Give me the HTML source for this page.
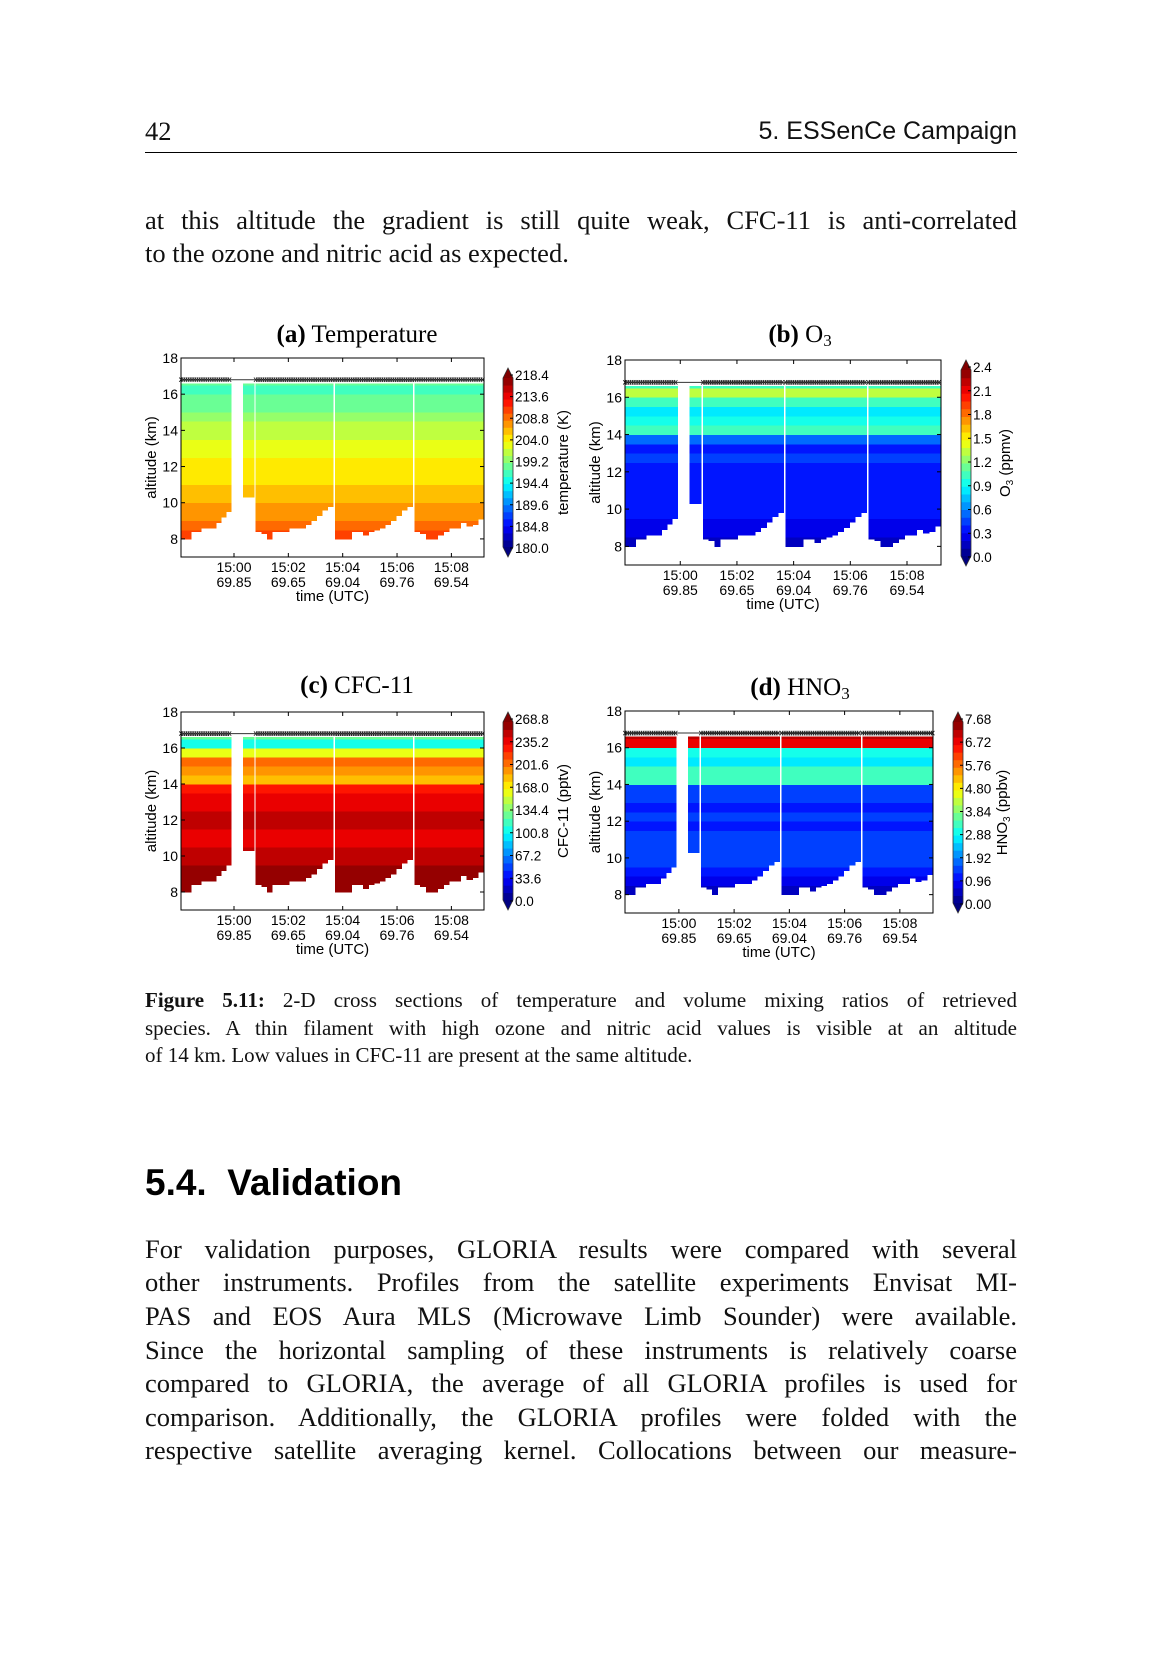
<!DOCTYPE html>
<html><head><meta charset="utf-8">
<style>
html,body{margin:0;padding:0;background:#fff;}
body{width:1165px;height:1654px;position:relative;overflow:hidden;}
.ln{position:absolute;left:145px;width:872px;font-family:"Liberation Serif",serif;font-size:26.5px;line-height:30px;white-space:nowrap;color:#111;}
.j{text-align:justify;text-align-last:justify;white-space:normal;height:30px;overflow:hidden;}
.cap{font-size:21px;line-height:24px;height:24px;}
#fig{position:absolute;left:0;top:0;}
</style></head><body>
<div class="ln" style="top:116px;">42</div>
<div class="ln" style="top:116px;text-align:right;font-family:'Liberation Sans',sans-serif;font-size:25px;">5. ESSenCe Campaign</div>
<div style="position:absolute;left:145px;top:152px;width:872px;height:1px;background:#000;"></div>

<div class="ln j" style="top:205px;">at this altitude the gradient is still quite weak, CFC-11 is anti-correlated</div>
<div class="ln" style="top:238px;">to the ozone and nitric acid as expected.</div>

<svg id="fig" width="1165" height="980"></svg>

<div class="ln j cap" style="top:988px;"><b>Figure 5.11:</b> 2-D cross sections of temperature and volume mixing ratios of retrieved</div>
<div class="ln j cap" style="top:1016px;">species. A thin filament with high ozone and nitric acid values is visible at an altitude</div>
<div class="ln cap" style="top:1043px;">of 14 km. Low values in CFC-11 are present at the same altitude.</div>

<div style="position:absolute;left:145px;top:1161px;font-family:'Liberation Sans',sans-serif;font-weight:bold;font-size:37px;line-height:44px;white-space:nowrap;">5.4.&nbsp;&nbsp;Validation</div>

<div class="ln j" style="top:1234px;">For validation purposes, GLORIA results were compared with several</div>
<div class="ln j" style="top:1267px;">other instruments. Profiles from the satellite experiments Envisat MI-</div>
<div class="ln j" style="top:1301px;">PAS and EOS Aura MLS (Microwave Limb Sounder) were available.</div>
<div class="ln j" style="top:1335px;">Since the horizontal sampling of these instruments is relatively coarse</div>
<div class="ln j" style="top:1368px;">compared to GLORIA, the average of all GLORIA profiles is used for</div>
<div class="ln j" style="top:1402px;">comparison. Additionally, the GLORIA profiles were folded with the</div>
<div class="ln j" style="top:1435px;">respective satellite averaging kernel. Collocations between our measure-</div>

<script>
// altitude levels (km) of profile rows, 0.5 km thick
const altLevels = [8,8.5,9,9.5,10,10.5,11,11.5,12,12.5,13,13.5,14,14.5,15,15.5,16,16.5];
const tempProfile = [211,209.5,208,207.5,207,206,205.5,204.5,205,204,203.5,202,201,199.5,199,198,197,198];
const o3Profile = [0.15,0.2,0.25,0.3,0.3,0.35,0.3,0.35,0.35,0.4,0.35,0.5,1.0,0.9,0.8,1.0,1.35,1.0];
const cfcProfile = [262,262,258,255,252,245,240,252,255,242,245,232,185,200,212,165,105,125];
const hno3Profile = [0.6,0.8,1.0,1.3,1.5,1.4,1.3,1.2,1.4,1.2,1.3,1.5,3.3,3.2,2.8,3.0,6.8,7.3];
// swaths (minutes relative to 15:00) and their bottom altitudes (km)
const swathStart = [-1.95,0.33,0.8,3.72,6.64];
const swathEnd = [-0.1,0.74,3.65,6.58,9.2];
const swathBottoms = [
  [7.9,7.9,8.4,8.4,8.6,8.6,8.6,8.9,9.2,9.5],
  [10.3,10.3],
  [8.4,8.3,8.0,8.4,8.4,8.4,8.6,8.6,8.6,8.8,9.0,9.3,9.6,9.8],
  [8.0,8.0,7.9,8.4,8.4,8.2,8.4,8.5,8.6,8.8,9.0,9.3,9.6,9.8],
  [8.4,8.3,8.0,7.8,8.2,8.4,8.6,8.6,8.9,8.7,8.8,9.1]
];
const dataTop = 16.6;
const timeTicks = [0,2,4,6,8];
const timeLabels = ["15:00","15:02","15:04","15:06","15:08"];
const latLabels = ["69.85","69.65","69.04","69.76","69.54"];
const altTicks = [8,10,12,14,16,18];
const tempCbar = ["218.4","213.6","208.8","204.0","199.2","194.4","189.6","184.8","180.0"];
const o3Cbar = ["2.4","2.1","1.8","1.5","1.2","0.9","0.6","0.3","0.0"];
const cfcCbar = ["268.8","235.2","201.6","168.0","134.4","100.8","67.2","33.6","0.0"];
const hno3Cbar = ["7.68","6.72","5.76","4.80","3.84","2.88","1.92","0.96","0.00"];

const NS='http://www.w3.org/2000/svg';
const svg=document.getElementById('fig');
function mk(tag,attrs,parent){const e=document.createElementNS(NS,tag);for(const k in attrs)e.setAttribute(k,attrs[k]);(parent||svg).appendChild(e);return e;}
function cl(v){return Math.max(0,Math.min(1,v));}
function jet(t){const r=cl(1.5-Math.abs(4*t-3)),g=cl(1.5-Math.abs(4*t-2)),b=cl(1.5-Math.abs(4*t-1));return 'rgb('+Math.round(r*255)+','+Math.round(g*255)+','+Math.round(b*255)+')';}
const NLEV=24;
function levColor(v,vmin,vmax){let t=(v-vmin)/(vmax-vmin);if(t>=1)return 'rgb(128,0,0)';if(t<0)return 'rgb(0,0,128)';const k=Math.floor(t*NLEV);return jet((k+0.5)/NLEV);}

const panels=[
 {id:'temperature',title:'(a)',name:' Temperature',box:[181,358,484,557],cb:[503,368,557],prof:tempProfile,vmin:180,vmax:218.4,cbl:tempCbar,clabel:'temperature (K)',clx:563,tx:357,ty:342},
 {id:'o3',title:'(b)',name:' O',sub:'3',box:[625,360,941,565],cb:[961,360,566],prof:o3Profile,vmin:0,vmax:2.4,cbl:o3Cbar,clabel:'O',csub:'3',cend:' (ppmv)',clx:1005,tx:800,ty:342},
 {id:'cfc11',title:'(c)',name:' CFC-11',box:[181,712,484,910],cb:[503,712,910],prof:cfcProfile,vmin:0,vmax:268.8,cbl:cfcCbar,clabel:'CFC-11 (pptv)',clx:563,tx:357,ty:693},
 {id:'hno3',title:'(d)',name:' HNO',sub:'3',box:[625,711,933,913],cb:[953,712,913],prof:hno3Profile,vmin:0,vmax:7.68,cbl:hno3Cbar,clabel:'HNO',csub:'3',cend:' (ppbv)',clx:1002,tx:800,ty:695}
];
const T0=-1.95,T1=9.2,A0=7,A1=18;
panels.forEach(p=>{
 const [x0,y0,x1,y1]=p.box;
 const xs=t=>x0+(t-T0)/(T1-T0)*(x1-x0);
 const ys=a=>y1-(a-A0)/(A1-A0)*(y1-y0);
 const g=mk('g',{});
 
 
 const tt=mk('text',{x:p.tx,y:p.ty,'text-anchor':'middle','font-family':'Liberation Serif, serif','font-size':'25'},g);
 
 
 const b1=mk('tspan',{'font-weight':'bold'},tt);b1.textContent=p.title;
 const b2=mk('tspan',{},tt);b2.textContent=p.name;
 if(p.sub){const b3=mk('tspan',{'font-size':'17',dy:'4'},tt);b3.textContent=p.sub;}
 const hm=mk('g',{'shape-rendering':'crispEdges'},g);
 
 
 for(let s=0;s<swathStart.length;s++){
  const bots=swathBottoms[s];const n=bots.length;const dt=(swathEnd[s]-swathStart[s])/n;
  for(let c=0;c<n;c++){
   const ta=swathStart[s]+c*dt,tb=ta+dt;
   for(let r=0;r<altLevels.length;r++){
    const lo=Math.max(altLevels[r],bots[c]),hi=Math.min(altLevels[r]+0.5,dataTop);
    if(hi<=lo)continue;
    const cell=mk('rect',{x:xs(ta).toFixed(2),y:ys(hi).toFixed(2),width:(xs(tb)-xs(ta)+0.4).toFixed(2),height:(ys(lo)-ys(hi)+0.4).toFixed(2),fill:levColor(p.prof[r],p.vmin,p.vmax)},hm);
    
    
   }
  }
 }
 const yl=ys(16.8);
 const ml=mk('line',{x1:x0,x2:x1,y1:yl,y2:yl,stroke:'#333','stroke-width':'1'},g);
 
 
 for(let s=0;s<swathStart.length;s++){
  if(s===1)continue;
  let d='';
  for(let x=xs(swathStart[s]);x<xs(swathEnd[s]);x+=2.2){d+='M'+(x-1.8)+' '+(yl-2.2)+'l3.6 4.4M'+(x-1.8)+' '+(yl+2.2)+'l3.6 -4.4';}
  const mp=mk('path',{d:d,stroke:'#222','stroke-width':'0.8',fill:'none'},g);
  
  
 }
 const fr=mk('rect',{x:x0,y:y0,width:x1-x0,height:y1-y0,fill:'none',stroke:'#000','stroke-width':'1'},g);
 
 
 altTicks.forEach(a=>{
  const y=ys(a);
  mk('line',{x1:x0,x2:x0+4,y1:y,y2:y,stroke:'#000'},g);
  mk('line',{x1:x1,x2:x1-4,y1:y,y2:y,stroke:'#000'},g);
  const t=mk('text',{x:x0-3,y:y+5,'text-anchor':'end','font-family':'Liberation Sans, sans-serif','font-size':'14'},g);
  
  
  t.textContent=a;
 });
 const yt=mk('text',{x:0,y:0,transform:'translate('+(x0-25)+','+((y0+y1)/2)+') rotate(-90)','text-anchor':'middle','font-family':'Liberation Sans, sans-serif','font-size':'15'},g);
 
 
 yt.textContent='altitude (km)';
 timeTicks.forEach((tk,i)=>{
  const x=xs(tk);
  mk('line',{x1:x,x2:x,y1:y1,y2:y1-4,stroke:'#000'},g);
  mk('line',{x1:x,x2:x,y1:y0,y2:y0+4,stroke:'#000'},g);
  const t=mk('text',{x:x,y:y1+15,'text-anchor':'middle','font-family':'Liberation Sans, sans-serif','font-size':'14'},g);
  
  
  t.textContent=timeLabels[i];
  const t2=mk('text',{x:x,y:y1+30,'text-anchor':'middle','font-family':'Liberation Sans, sans-serif','font-size':'14'},g);
  
  
  t2.textContent=latLabels[i];
 });
 const xt=mk('text',{x:(x0+x1)/2,y:y1+44,'text-anchor':'middle','font-family':'Liberation Sans, sans-serif','font-size':'15'},g);
 
 
 xt.textContent='time (UTC)';
 const [cx,ct,cbm]=p.cb;const cw=10;const tri=10;
 const it=ct+tri,ib=cbm-tri;
 const cbg=mk('g',{},g);
 
 
 for(let k=0;k<NLEV;k++){
  const yA=ib-(k+1)*(ib-it)/NLEV;
  mk('rect',{x:cx,y:yA,width:cw,height:(ib-it)/NLEV+0.5,fill:jet((k+0.5)/NLEV)},cbg);
 }
 mk('path',{d:'M'+cx+' '+it+'L'+(cx+cw/2)+' '+ct+'L'+(cx+cw)+' '+it+'Z',fill:'rgb(128,0,0)'},cbg);
 mk('path',{d:'M'+cx+' '+ib+'L'+(cx+cw/2)+' '+cbm+'L'+(cx+cw)+' '+ib+'Z',fill:'rgb(0,0,128)'},cbg);
 mk('path',{d:'M'+cx+' '+it+'L'+(cx+cw/2)+' '+ct+'L'+(cx+cw)+' '+it+'L'+(cx+cw)+' '+ib+'L'+(cx+cw/2)+' '+cbm+'L'+cx+' '+ib+'Z',fill:'none',stroke:'#333','stroke-width':'0.8'},cbg);
 const la=ct+7,lb=cbm-9;
 p.cbl.forEach((lab,i)=>{
  const y=la+i*(lb-la)/(p.cbl.length-1);
  mk('line',{x1:cx+cw-3,x2:cx+cw,y1:y,y2:y,stroke:'#000'},cbg);
  const t=mk('text',{x:cx+cw+2,y:y+5,'font-family':'Liberation Sans, sans-serif','font-size':'13.5'},cbg);
  
  
  t.textContent=lab;
 });
 const ctl=mk('text',{x:0,y:0,transform:'translate('+(p.clx+5)+','+((ct+cbm)/2)+') rotate(-90)','text-anchor':'middle','font-family':'Liberation Sans, sans-serif','font-size':'15'},cbg);
 
 
 const c1=mk('tspan',{},ctl);c1.textContent=p.clabel;
 if(p.csub){const c2=mk('tspan',{'font-size':'10',dy:'3'},ctl);c2.textContent=p.csub;const c3=mk('tspan',{dy:'-3'},ctl);c3.textContent=p.cend;}
});
</script>
</body></html>
